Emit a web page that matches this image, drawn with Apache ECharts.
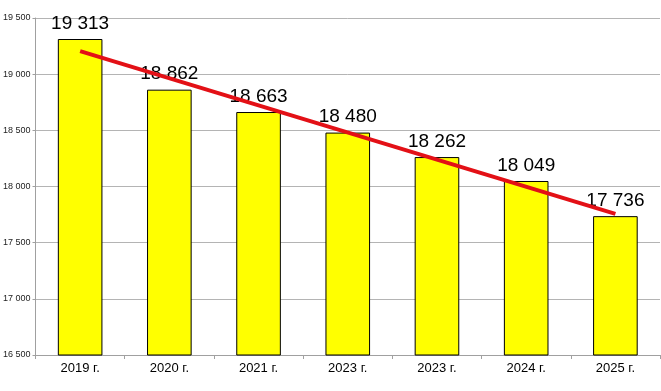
<!DOCTYPE html>
<html>
<head>
<meta charset="utf-8">
<script src="https://cdn.jsdelivr.net/npm/echarts@6/dist/echarts.min.js"></script>
<style>html,body{margin:0;padding:0;background:#fff}#c{width:661px;height:391px}</style>
</head>
<body>
<div id="c"></div>
<script>
var categories = ['2019 г.', '2020 г.', '2021 г.', '2023 г.', '2023 г.', '2024 г.', '2025 г.'];
var values = [19313, 18862, 18663, 18480, 18262, 18049, 17736];
var trend = [19205, null, null, null, null, null, 17757];

function fmt(v) {
  var s = String(Math.round(v));
  return s.replace(/\B(?=(\d{3})+(?!\d))/g, ' ');
}

var chart = echarts.init(document.getElementById('c'));
chart.setOption({
  animation: false,
  backgroundColor: '#fff',
  grid: { left: 33, right: 1, top: 18, bottom: 36 },
  xAxis: {
    type: 'category',
    data: categories,
    axisLine: { lineStyle: { color: '#a0a0a0' } },
    axisTick: { show: true, length: 4, lineStyle: { color: '#a0a0a0' } },
    axisLabel: { color: '#000', fontFamily: 'Liberation Sans, Arial', fontSize: 13, margin: 7 }
  },
  yAxis: {
    type: 'value',
    min: 16500, max: 19500, interval: 500,
    axisLine: { show: true, lineStyle: { color: '#a0a0a0' } },
    axisTick: { show: true, length: 3, lineStyle: { color: '#a0a0a0' } },
    splitLine: { lineStyle: { color: '#b4b4b4' } },
    axisLabel: { color: '#222', fontFamily: 'Liberation Sans, Arial', fontSize: 9, margin: 5, formatter: fmt }
  },
  series: [
    {
      type: 'bar',
      data: values,
      barWidth: '50%',
      itemStyle: { color: '#ffff00', borderColor: '#000', borderWidth: 1 },
      label: {
        show: true, position: 'top', distance: 6,
        color: '#000', fontFamily: 'Liberation Sans, Arial', fontSize: 19,
        formatter: function (p) { return fmt(p.value); }
      }
    },
    {
      type: 'line',
      data: trend,
      connectNulls: true,
      symbol: 'none',
      lineStyle: { color: '#e31016', width: 4 },
      z: 5
    }
  ]
});
</script>
</body>
</html>
